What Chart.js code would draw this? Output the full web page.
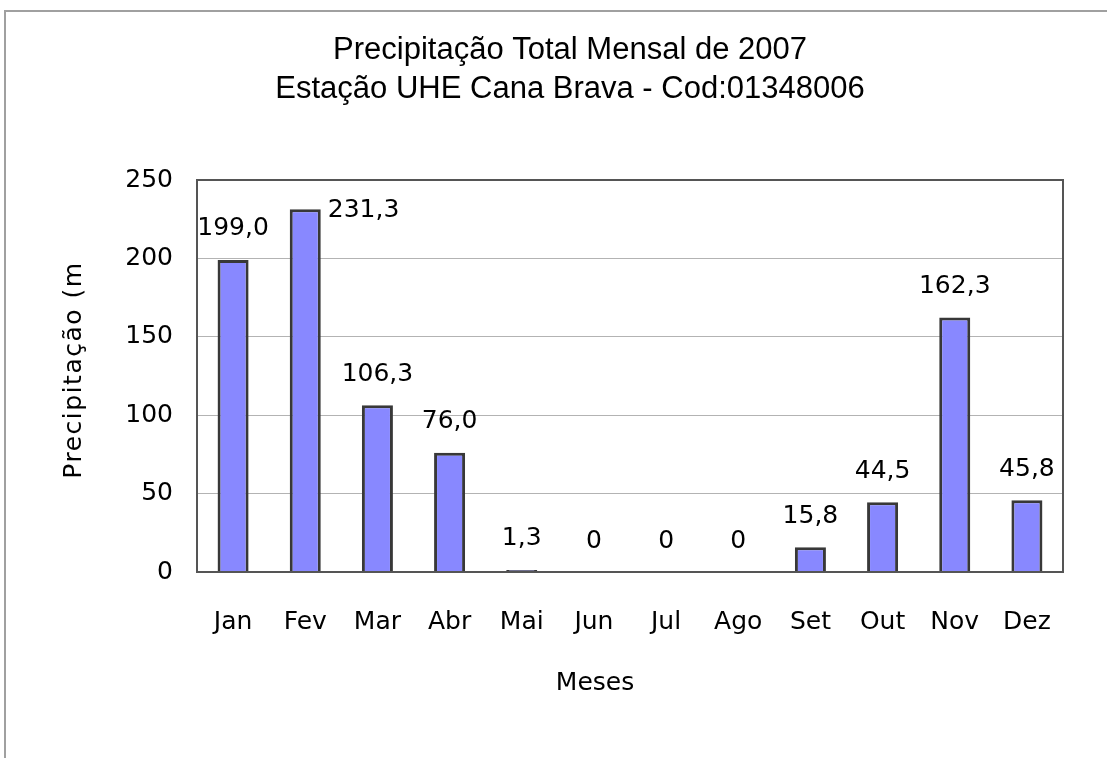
<!DOCTYPE html>
<html>
<head>
<meta charset="utf-8">
<script src="https://cdn.jsdelivr.net/npm/chart.js@4.4.1/dist/chart.umd.min.js"></script>
<style>
    html, body { margin: 0; padding: 0; background: #fff; overflow: hidden; }
    #wrap { position: relative; width: 1140px; height: 758px; }
    #frame { position: absolute; left: 4px; top: 10px; width: 1140px; height: 800px; border: 2px solid #a0a0a0; box-sizing: border-box; }
    #chart { position: absolute; left: 0; top: 0; }
</style>
</head>
<body>
<div id="wrap">
    <div id="frame"></div>
    <canvas id="chart" width="1140" height="758"></canvas>
</div>
<script>
    const months = ['Jan', 'Fev', 'Mar', 'Abr', 'Mai', 'Jun', 'Jul', 'Ago', 'Set', 'Out', 'Nov', 'Dez'];
    const rainfall = [199.0, 231.3, 106.3, 76.0, 1.3, 0, 0, 0, 15.8, 44.5, 162.3, 45.8];
    const yMin = 0;
    const yMax = 250;
    const yStep = 50;

    const titleLines = ['Precipitação Total Mensal de 2007', 'Estação UHE Cana Brava - Cod:01348006'];
    const yTitle = 'Precipitação (m';
    const xTitle = 'Meses';

    const labelFont = '25px "DejaVu Sans"';

    function formatValue(v) {
        if (v === 0) {
            return '0';
        }
        return v.toFixed(1).replace('.', ',');
    }

    // titles, axis titles, plot border and value labels
    const decorations = {
        id: 'decorations',
        afterDatasetsDraw(chart) {
            const ctx = chart.ctx;
            const area = chart.chartArea;
            ctx.save();

            ctx.strokeStyle = '#555';
            ctx.lineWidth = 2;
            ctx.strokeRect(area.left, area.top, area.right - area.left, area.bottom - area.top);

            ctx.fillStyle = '#000';
            ctx.font = labelFont;
            ctx.textBaseline = 'middle';
            const meta = chart.getDatasetMeta(0);
            meta.data.forEach(function (bar, i) {
                const text = formatValue(rainfall[i]);
                let y = bar.y - 31;
                if (y - 12 < area.top) {
                    // no room above the bar: put the label beside it
                    ctx.textAlign = 'left';
                    ctx.fillText(text, bar.x + bar.width / 2 + 7, bar.y + 1);
                } else {
                    ctx.textAlign = 'center';
                    ctx.fillText(text, bar.x, y);
                }
            });

            ctx.font = '31px "Liberation Sans"';
            ctx.textAlign = 'center';
            ctx.fillText(titleLines[0], chart.width / 2, 50);
            ctx.fillText(titleLines[1], chart.width / 2, 89);

            ctx.font = labelFont;
            ctx.fillText(xTitle, 595, 683);

            ctx.translate(74, 370);
            ctx.rotate(-Math.PI / 2);
            ctx.letterSpacing = '1.5px';
            ctx.fillText(yTitle, 0, 0);
            ctx.restore();
        }
    };

    const ctx = document.getElementById('chart');
    const RainChart = new Chart(ctx, {
        type: 'bar',
        data: {
            labels: months,
            datasets: [{
                data: rainfall,
                backgroundColor: '#8888ff',
                borderColor: '#383838',
                borderWidth: 3,
                barPercentage: 0.43,
                categoryPercentage: 1
            }]
        },
        options: {
            responsive: false,
            animation: false,
            layout: {
                padding: { left: 0, top: 180, right: 77, bottom: 0 }
            },
            plugins: {
                legend: { display: false },
                tooltip: { enabled: false }
            },
            scales: {
                x: {
                    grid: { display: false },
                    border: { display: false },
                    ticks: {
                        color: '#000',
                        padding: 27,
                        font: { family: 'DejaVu Sans', size: 25 }
                    },
                    afterFit: function (scale) {
                        scale.height = 186;
                    }
                },
                y: {
                    min: yMin,
                    max: yMax,
                    grid: { color: '#b3b3b3', lineWidth: 1, drawTicks: false },
                    border: { display: false },
                    ticks: {
                        stepSize: yStep,
                        color: '#000',
                        padding: 24,
                        font: { family: 'DejaVu Sans', size: 25 }
                    },
                    afterFit: function (scale) {
                        scale.width = 197;
                    }
                }
            }
        },
        plugins: [decorations]
    });
</script>
</body>
</html>
